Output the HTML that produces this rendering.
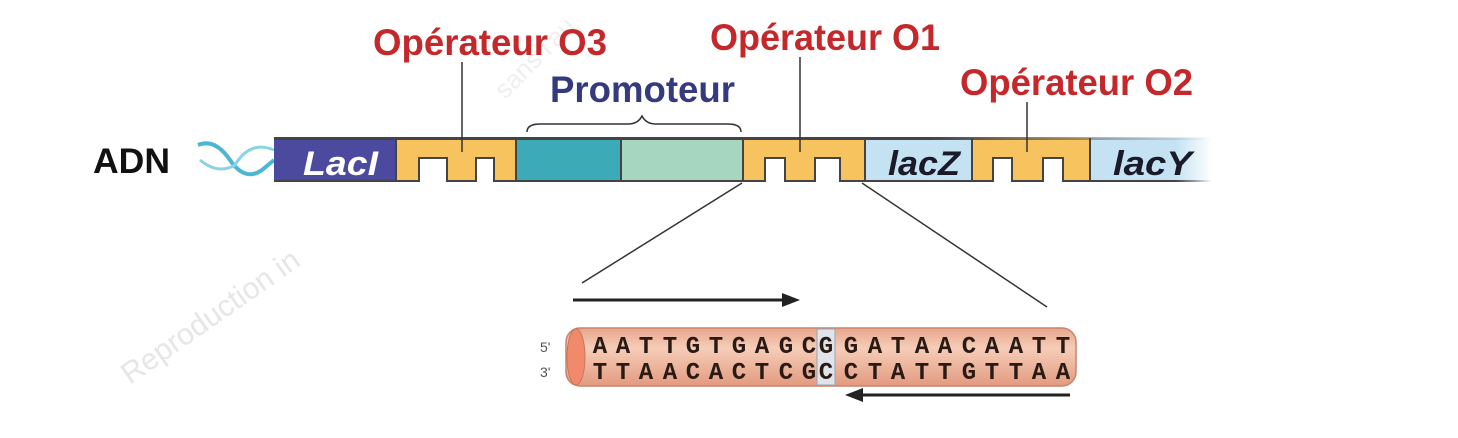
<!DOCTYPE html>
<html><head><meta charset="utf-8"><style>
html,body{margin:0;padding:0;background:#fff;}
svg{display:block;}
.s{font-family:"Liberation Sans",Arial,sans-serif;font-weight:bold;}
.m{font-family:"Liberation Mono","DejaVu Sans Mono",monospace;font-weight:bold;}
</style></head><body>
<svg width="1458" height="438" viewBox="0 0 1458 438" xmlns="http://www.w3.org/2000/svg">
<defs>
<linearGradient id="fadeY" x1="0" x2="1" y1="0" y2="0">
<stop offset="0" stop-color="#c4e2f2"/><stop offset="0.7" stop-color="#c4e2f2"/><stop offset="1" stop-color="#c4e2f2" stop-opacity="0"/>
</linearGradient>
<linearGradient id="fadeL" x1="0" x2="1" y1="0" y2="0">
<stop offset="0" stop-color="#444"/><stop offset="0.7" stop-color="#444"/><stop offset="1" stop-color="#444" stop-opacity="0"/>
</linearGradient>
<linearGradient id="cyl" x1="0" x2="0" y1="0" y2="1">
<stop offset="0" stop-color="#e7a58c"/><stop offset="0.35" stop-color="#f6cdb8"/><stop offset="1" stop-color="#e29a80"/>
</linearGradient>
</defs>

<text class="s" x="130" y="385" transform="rotate(-35 130 385)" font-size="30" fill="#e6e6e6" style="font-weight:normal">Reproduction in</text>
<text class="s" x="505" y="100" transform="rotate(-45 505 100)" font-size="26" fill="#efefef" style="font-weight:normal">sans l'au</text>

<text class="s" x="373" y="55" font-size="37" fill="#c4282b" textLength="234" lengthAdjust="spacingAndGlyphs">Opérateur O3</text>
<text class="s" x="710" y="50" font-size="37" fill="#c4282b" textLength="230" lengthAdjust="spacingAndGlyphs">Opérateur O1</text>
<text class="s" x="960" y="95" font-size="37" fill="#c4282b" textLength="233" lengthAdjust="spacingAndGlyphs">Opérateur O2</text>
<text class="s" x="550" y="102" font-size="37" fill="#35397e" textLength="185" lengthAdjust="spacingAndGlyphs">Promoteur</text>
<text class="s" x="93" y="173" font-size="35" fill="#111" textLength="77" lengthAdjust="spacingAndGlyphs">ADN</text>

<path d="M527 132 Q527 124 540 124 L628 124 Q638 124 642 116 Q646 124 656 124 L728 124 Q741 124 741 132" fill="none" stroke="#333" stroke-width="1.5"/>

<path d="M198 145 Q215 138 230 160 Q245 182 262 170 L274 160" fill="none" stroke="#4bb6d6" stroke-width="4"/>
<path d="M200 160 Q218 175 235 165 Q250 140 274 150" fill="none" stroke="#8ad2e6" stroke-width="3"/>

<rect x="274" y="138" width="122" height="44" fill="#4b4a9e"/>
<rect x="396" y="138" width="120" height="44" fill="#f7c35e"/>
<rect x="516" y="138" width="105" height="44" fill="#3daab8"/>
<rect x="621" y="138" width="122" height="44" fill="#a7d6c0"/>
<rect x="743" y="138" width="122" height="44" fill="#f7c35e"/>
<rect x="865" y="138" width="107" height="44" fill="#c4e2f2"/>
<rect x="972" y="138" width="118" height="44" fill="#f7c35e"/>
<rect x="1090" y="138" width="122" height="44" fill="url(#fadeY)"/>
<g fill="#fff">
<rect x="419" y="158" width="28" height="24"/><rect x="476" y="158" width="18" height="24"/>
<rect x="765" y="158" width="20" height="24"/><rect x="815" y="158" width="25" height="24"/>
<rect x="993" y="158" width="19" height="24"/><rect x="1043" y="158" width="20" height="24"/>
</g>
<g fill="none" stroke="#444" stroke-width="2">
<path d="M396 181 L419 181 L419 158 L447 158 L447 181 L476 181 L476 158 L494 158 L494 181 L516 181"/>
<path d="M743 181 L765 181 L765 158 L785 158 L785 181 L815 181 L815 158 L840 158 L840 181 L865 181"/>
<path d="M972 181 L993 181 L993 158 L1012 158 L1012 181 L1043 181 L1043 158 L1063 158 L1063 181 L1090 181"/>
<path d="M274 181 L396 181 M516 181 L743 181 M865 181 L972 181"/>
<line x1="396" y1="138" x2="396" y2="182"/><line x1="516" y1="138" x2="516" y2="182"/>
<line x1="621" y1="138" x2="621" y2="182"/><line x1="743" y1="138" x2="743" y2="182"/>
<line x1="865" y1="138" x2="865" y2="182"/><line x1="972" y1="138" x2="972" y2="182"/>
<line x1="1090" y1="138" x2="1090" y2="182"/>
</g>
<rect x="274" y="137" width="938" height="3" fill="url(#fadeL)"/>
<rect x="1090" y="180" width="122" height="2" fill="url(#fadeL)"/>

<text class="s" x="303" y="175" font-size="34" fill="#fff" font-style="italic" textLength="75" lengthAdjust="spacingAndGlyphs">LacI</text>
<text class="s" x="888" y="175" font-size="34" fill="#1a1a2a" font-style="italic" textLength="72" lengthAdjust="spacingAndGlyphs">lacZ</text>
<text class="s" x="1113" y="175" font-size="34" fill="#1a1a2a" font-style="italic" textLength="79" lengthAdjust="spacingAndGlyphs">lacY</text>

<g stroke="#333" stroke-width="1.5">
<line x1="462" y1="62" x2="462" y2="152"/>
<line x1="800" y1="57" x2="800" y2="152"/>
<line x1="1027" y1="102" x2="1027" y2="152"/>
<line x1="742" y1="183" x2="582" y2="283"/>
<line x1="862" y1="183" x2="1047" y2="307"/>
</g>

<line x1="573" y1="300" x2="785" y2="300" stroke="#222" stroke-width="3"/>
<path d="M800 300 L782 293 L782 307 Z" fill="#222"/>
<line x1="860" y1="395" x2="1070" y2="395" stroke="#222" stroke-width="3"/>
<path d="M845 395 L863 388 L863 402 Z" fill="#222"/>

<rect x="566" y="328" width="510" height="58" rx="14" fill="url(#cyl)" stroke="#c98468" stroke-width="1.5"/>
<ellipse cx="576" cy="357" rx="9" ry="28" fill="#f08a6a" stroke="#c9765c"/>
<rect x="817" y="329" width="18" height="56" fill="#dfe3ea" stroke="#9aa6b6"/>
<text class="s" x="540" y="352" font-size="14" fill="#555" style="font-weight:normal">5'</text>
<text class="s" x="540" y="377" font-size="14" fill="#555" style="font-weight:normal">3'</text>
<g class="m" font-size="24" fill="#2a1a14" text-anchor="middle">
<text y="353" x="600 623 646 670 693 716 739 762 786 809 826 851 875 898 922 945 969 992 1016 1039 1063">AATTGTGAGCGGATAACAATT</text>
<text y="379" x="600 623 646 670 693 716 739 762 786 809 826 851 875 898 922 945 969 992 1016 1039 1063">TTAACACTCGCCTATTGTTAA</text>
</g>
</svg>
</body></html>
